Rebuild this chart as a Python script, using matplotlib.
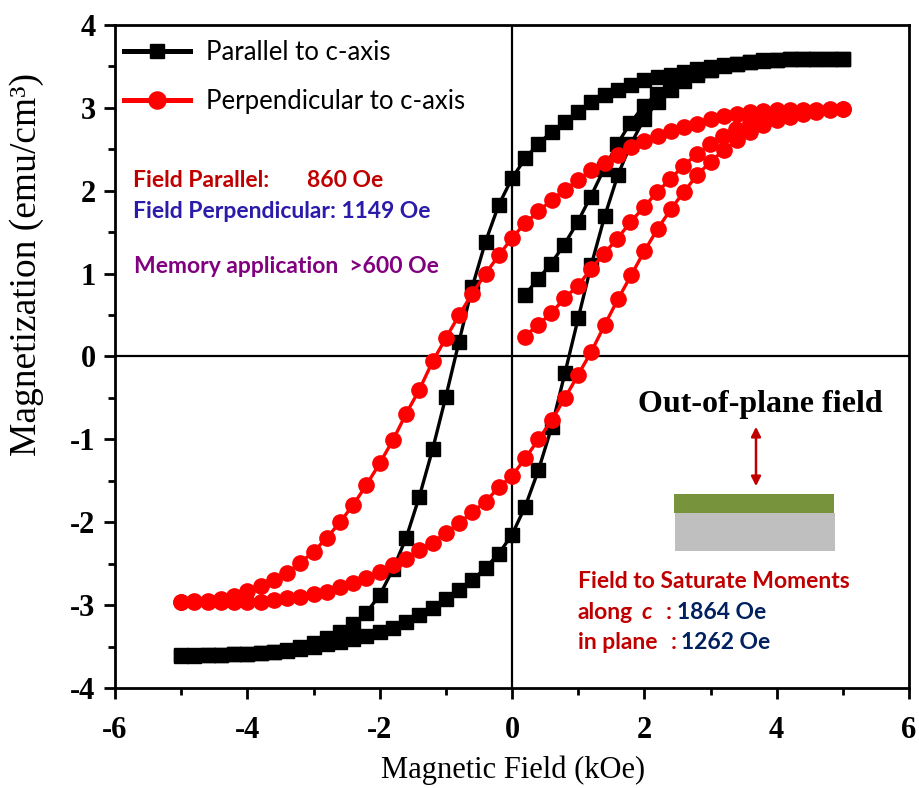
import matplotlib
matplotlib.use("Agg")
import matplotlib.pyplot as plt
from matplotlib.patches import Rectangle, FancyArrowPatch

plt.rcParams["axes.unicode_minus"] = False

# ---------------- data ----------------
# field sweep from +5 kOe down to -5 kOe (descending branch)
field_down = [5.0, 4.8, 4.6, 4.4, 4.2, 4.0, 3.8, 3.6, 3.4, 3.2, 3.0, 2.8, 2.6,
              2.4, 2.2, 2.0, 1.8, 1.6, 1.4, 1.2, 1.0, 0.8, 0.6, 0.4, 0.2, 0.0,
              -0.2, -0.4, -0.6, -0.8, -1.0, -1.2, -1.4, -1.6, -1.8, -2.0, -2.2,
              -2.4, -2.6, -2.8, -3.0, -3.2, -3.4, -3.6, -3.8, -4.0, -4.2, -4.4,
              -4.6, -4.8, -5.0]
# field sweep from -5 kOe back up to +5 kOe (ascending branch)
field_up = field_down[::-1]
# initial magnetisation curve fields
field_virgin = [0.19, 0.39, 0.59, 0.79, 0.99, 1.19, 1.39, 1.59, 1.79, 1.99,
                2.19, 2.39, 2.59, 2.79, 2.99, 3.19, 3.39, 3.59, 3.79, 3.99]

# Parallel to c-axis (emu/cm^3)
par_virgin = [0.74, 0.93, 1.12, 1.35, 1.62, 1.93, 2.26, 2.56, 2.82, 3.02,
              3.17, 3.28, 3.36, 3.42, 3.46]
par_down = [3.595, 3.595, 3.59, 3.59, 3.585, 3.58, 3.575, 3.555, 3.535, 3.515,
            3.495, 3.465, 3.435, 3.40, 3.375, 3.335, 3.275, 3.215, 3.155, 3.07,
            2.95, 2.83, 2.71, 2.57, 2.39, 2.15, 1.83, 1.385, 0.84, 0.18,
            -0.485, -1.12, -1.69, -2.19, -2.57, -2.88, -3.09, -3.23, -3.32,
            -3.40, -3.46, -3.51, -3.54, -3.565, -3.58, -3.59, -3.595, -3.60,
            -3.60, -3.60, -3.605]
par_up = [-3.61, -3.61, -3.60, -3.60, -3.59, -3.585, -3.58, -3.565, -3.55,
          -3.525, -3.50, -3.47, -3.44, -3.41, -3.37, -3.32, -3.27, -3.20,
          -3.12, -3.03, -2.93, -2.82, -2.70, -2.55, -2.38, -2.15, -1.81,
          -1.37, -0.85, -0.20, 0.46, 1.11, 1.69, 2.19, 2.57, 2.87, 3.07,
          3.22, 3.32, 3.40, 3.46, 3.50, 3.53, 3.555, 3.57, 3.58, 3.59, 3.59,
          3.595, 3.595, 3.595]

# Perpendicular to c-axis (emu/cm^3)
perp_virgin = [0.24, 0.38, 0.52, 0.70, 0.85, 1.05, 1.24, 1.42, 1.62, 1.80,
               1.98, 2.14, 2.30, 2.44, 2.56, 2.66, 2.74, 2.82, 2.87, 2.91]
perp_down = [2.985, 2.985, 2.98, 2.98, 2.975, 2.97, 2.96, 2.95, 2.93, 2.90,
             2.86, 2.81, 2.77, 2.72, 2.66, 2.595, 2.53, 2.43, 2.33, 2.25,
             2.13, 2.01, 1.89, 1.75, 1.61, 1.43, 1.22, 1.00, 0.76, 0.50,
             0.22, -0.06, -0.40, -0.69, -1.01, -1.29, -1.55, -1.79, -2.00,
             -2.19, -2.355, -2.49, -2.61, -2.70, -2.77, -2.83, -2.89, -2.925,
             -2.945, -2.955, -2.965]
perp_up = [-2.965, -2.965, -2.965, -2.965, -2.965, -2.965, -2.96, -2.94,
           -2.92, -2.90, -2.865, -2.84, -2.785, -2.735, -2.67, -2.60, -2.515,
           -2.44, -2.33, -2.245, -2.13, -2.01, -1.88, -1.75, -1.58, -1.44,
           -1.23, -1.00, -0.77, -0.50, -0.22, 0.06, 0.38, 0.69, 0.98, 1.27,
           1.54, 1.775, 1.99, 2.19, 2.35, 2.49, 2.61, 2.71, 2.79, 2.85, 2.89,
           2.93, 2.95, 2.97, 2.985]

series_labels = ["Parallel to c-axis", "Perpendicular to c-axis"]
x_ticks = [-6, -4, -2, 0, 2, 4, 6]
y_ticks = [-4, -3, -2, -1, 0, 1, 2, 3, 4]

# ---------------- figure ----------------
W, H = 919, 788
fig = plt.figure(figsize=(W / 100, H / 100), dpi=100)
ax = fig.add_axes([115 / W, 1 - 688 / H, 794 / W, 663 / H])


def fx(px):
    return px / W


def fy(py):
    return 1 - py / H


SERIF = "Liberation Serif"
SANS = "Lato"

ax.axhline(0, color="black", lw=1.6, zorder=1)
ax.axvline(0, color="black", lw=1.6, zorder=1)

par_x = field_virgin[:len(par_virgin)] + field_down + field_up
par_y = par_virgin + par_down + par_up
perp_x = field_virgin[:len(perp_virgin)] + field_down + field_up
perp_y = perp_virgin + perp_down + perp_up

ax.plot(par_x, par_y, color="black", lw=2.4, marker="s", ms=9.5,
        mec="black", mfc="black", label=series_labels[0], zorder=3)
ax.plot(perp_x, perp_y, color="#FF0000", lw=2.4, marker="o", ms=11,
        mec="#FF0000", mfc="#FF0000", label=series_labels[1], zorder=4)

ax.set_xlim(-6, 6)
ax.set_ylim(-4, 4)
ax.set_xticks(x_ticks)
ax.set_xticks([-5, -3, -1, 1, 3, 5], minor=True)
ax.set_yticks(y_ticks)
ax.set_yticks([-3.5, -2.5, -1.5, -0.5, 0.5, 1.5, 2.5, 3.5], minor=True)
ax.tick_params(which="major", direction="out", length=8, width=2,
               top=False, right=False)
ax.tick_params(axis="x", which="major", pad=12)
ax.tick_params(axis="y", which="major", pad=6)
ax.tick_params(which="minor", direction="out", length=5, width=2,
               top=False, right=False)
for lab in ax.get_xticklabels() + ax.get_yticklabels():
    lab.set_fontfamily(SERIF)
    lab.set_fontweight("bold")
    lab.set_fontsize(22)
for sp in ax.spines.values():
    sp.set_linewidth(2)

fig.text(fx(513), fy(770), "Magnetic Field (kOe)", family=SERIF, fontsize=22,
         ha="center", va="center")
fig.text(fx(27), fy(265), "Magnetization (emu/cm\u00b3)", family=SERIF,
         fontsize=27, ha="center", va="center", rotation=90)

leg = ax.legend(loc="upper left", bbox_to_anchor=(fx(124), fy(40)),
                bbox_transform=fig.transFigure, frameon=False,
                prop={"family": SANS, "size": 18.5}, handlelength=2.55,
                handletextpad=0.65, labelspacing=0.95, borderpad=0,
                borderaxespad=0)
for h in leg.legend_handles:
    h.set_linewidth(3.6)
    h.set_markersize(h.get_markersize() * 1.12)

# coercive-field notes
note_kw = dict(family=SANS, fontweight="bold", fontsize=16.5, va="baseline")
fig.text(fx(133), fy(187), "Field Parallel:", color="#C00000", **note_kw)
fig.text(fx(307), fy(187), "860 Oe", color="#C00000", **note_kw)
fig.text(fx(133), fy(218), "Field Perpendicular: 1149 Oe", color="#2B1BAA",
         **note_kw)
fig.text(fx(134), fy(273), "Memory application  >600 Oe", color="#800080",
         **note_kw)

# out-of-plane field sketch
fig.text(fx(760), fy(412), "Out-of-plane field", family=SERIF,
         fontweight="bold", fontsize=23, ha="center", va="baseline")
arrow = FancyArrowPatch((fx(756), fy(424)), (fx(756), fy(489)),
                        transform=fig.transFigure, arrowstyle="<|-|>",
                        mutation_scale=14, color="#C00000", lw=1.8)
fig.add_artist(arrow)
fig.add_artist(Rectangle((fx(675), fy(551)), fx(835) - fx(675), fy(513) - fy(551),
                         transform=fig.transFigure, color="#BFBFBF", lw=0))
fig.add_artist(Rectangle((fx(674), fy(513)), fx(834) - fx(674), fy(494) - fy(513),
                         transform=fig.transFigure, color="#77933C", lw=0))

# saturation-field notes
fig.text(fx(578), fy(588), "Field to Saturate Moments", color="#C00000",
         **note_kw)
fig.text(fx(578), fy(619), "along", color="#C00000", **note_kw)
fig.text(fx(641), fy(619), "c", color="#C00000", style="italic", **note_kw)
fig.text(fx(666), fy(619), ":", color="#C00000", **note_kw)
fig.text(fx(677), fy(619), "1864 Oe", color="#002060", **note_kw)
fig.text(fx(578), fy(649), "in plane", color="#C00000", **note_kw)
fig.text(fx(671), fy(649), ":", color="#C00000", **note_kw)
fig.text(fx(681), fy(649), "1262 Oe", color="#002060", **note_kw)

fig.savefig("out.png", dpi=100)
